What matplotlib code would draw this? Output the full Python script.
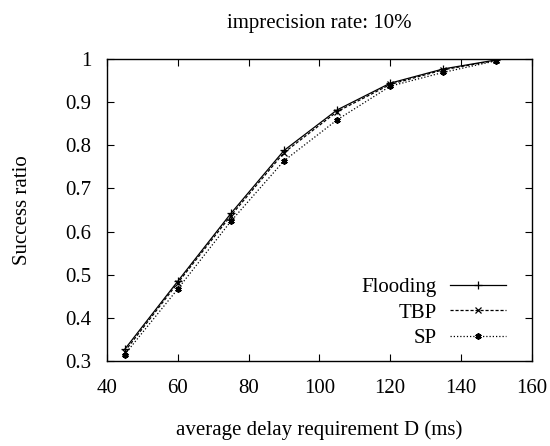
import matplotlib
matplotlib.use('Agg')
import matplotlib.pyplot as plt

# values
delay = [45, 60, 75, 90, 105, 120, 135, 150]
flooding = [0.327, 0.485, 0.642, 0.788, 0.882, 0.944, 0.977, 0.998]
tbp = [0.322, 0.481, 0.637, 0.783, 0.878, 0.941, 0.975, 0.997]
sp = [0.315, 0.467, 0.624, 0.764, 0.859, 0.937, 0.969, 0.996]

xticks = [40, 60, 80, 100, 120, 140, 160]
yticks = [0.3, 0.4, 0.5, 0.6, 0.7, 0.8, 0.9, 1.0]
yticklabels = ['0.3', '0.4', '0.5', '0.6', '0.7', '0.8', '0.9', '1']

plt.rcParams['font.family'] = ['Liberation Serif', 'DejaVu Serif']
plt.rcParams['font.size'] = 15

fig = plt.figure(figsize=(5.5, 4.46), dpi=100)
ax = fig.add_axes([0.1945, 0.1906, 0.7725, 0.6771])

ax.plot(delay, flooding, color='black', lw=0.9, ls='-', marker='+', ms=6, mew=0.9, label='Flooding')
ax.plot(delay, tbp, color='black', lw=0.9, ls=(0, (2.5, 1.5)), marker='x', ms=4, mew=0.9, label='TBP')
ax.plot(delay, sp, color='black', lw=0.9, ls=(0, (1, 1.6)), marker=(6, 2, 0), ms=4.5, mew=1.3, label='SP')

ax.set_xlim(40, 160)
ax.set_ylim(0.3, 1.0)
ax.set_xticks(xticks)
ax.set_yticks(yticks)
ax.set_yticklabels(yticklabels)
ax.tick_params(direction='in', length=5, width=0.8, top=True, right=True)
ax.tick_params(axis='x', pad=13)
ax.tick_params(axis='y', pad=11)
for s in ax.spines.values():
    s.set_linewidth(1.0)

ax.set_title('imprecision rate: 10%', fontsize=15, pad=22)
ax.set_xlabel('average delay requirement D (ms)', fontsize=15, labelpad=16)
ax.set_ylabel('Success ratio', fontsize=15, labelpad=24)

leg = ax.legend(loc='lower right', bbox_to_anchor=(0.973, -0.005), frameon=False,
                markerfirst=False, handlelength=2.7, labelspacing=0.28,
                handletextpad=0.6, borderaxespad=0.3, fontsize=15)

fig.savefig('out.png', dpi=100)
